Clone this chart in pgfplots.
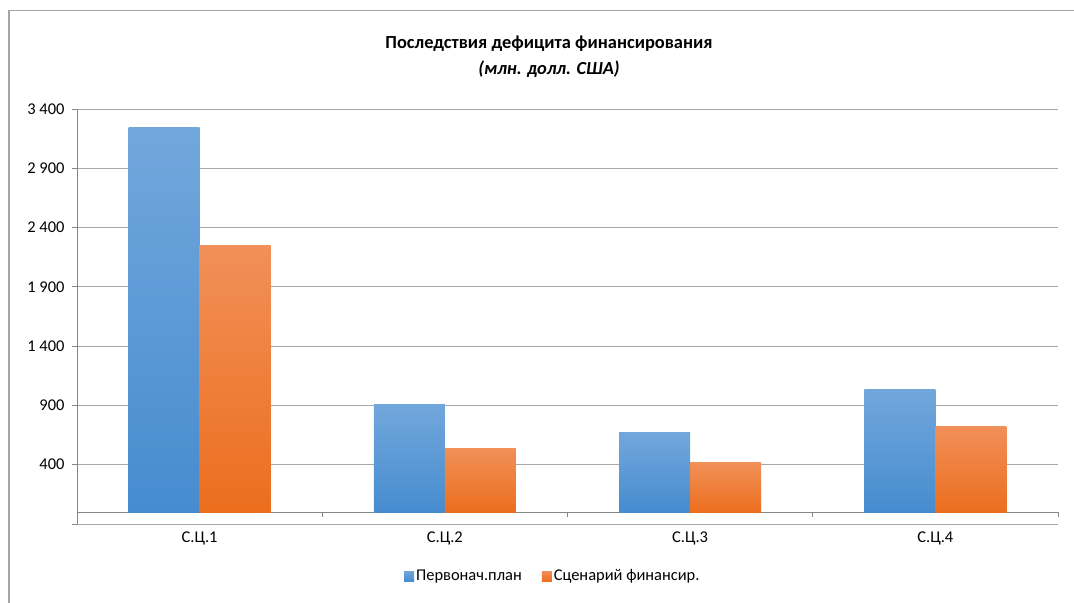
\documentclass[border=0pt]{standalone}
\usepackage{pgfplots}
\pgfplotsset{compat=1.18}
\usepackage{fontspec}
\setmainfont{Carlito}
\definecolor{blueTop}{RGB}{114,167,220}
\definecolor{blueBot}{RGB}{70,140,207}
\definecolor{orTop}{RGB}{241,144,88}
\definecolor{orBot}{RGB}{236,110,30}
\definecolor{blueLeg}{RGB}{91,155,213}
\definecolor{orLeg}{RGB}{237,125,49}
\definecolor{gridgray}{RGB}{168,168,168}
\definecolor{axgray}{RGB}{134,134,134}
\definecolor{framegray}{RGB}{165,165,165}
\begin{document}
\begin{tikzpicture}
\useasboundingbox (0,0) rectangle (1074bp,603bp);
\draw[framegray, line width=1.2bp] (9bp,0) -- (9bp,592.5bp) -- (1074bp,592.5bp);
\node[font=\fontsize{18.5}{20}\selectfont\bfseries] at (549bp,559bp) {Последствия дефицита финансирования};
\node[font=\fontsize{18.5}{20}\selectfont\bfseries\itshape] at (549bp,534bp) {(млн. долл. США)};
\begin{axis}[
  scale only axis,
  width=981bp, height=415bp,
  at={(77bp,79bp)}, anchor=south west,
  xmin=-0.5, xmax=3.5,
  ymin=-100, ymax=3400,
  axis y line*=left,
  axis x line*=middle,
  axis line style={axgray, line width=0.9bp},
  ytick={-100,400,900,1400,1900,2400,2900,3400},
  yticklabels={{},400,900,{1 400},{1 900},{2 400},{2 900},{3 400}},
  ymajorgrids,
  major grid style={gridgray, line width=0.9bp},
  tick align=outside,
  major tick length=5bp,
  tick style={axgray, line width=0.9bp},
  xtick={-0.5,0.5,1.5,2.5,3.5},
  xticklabels={},
  extra x ticks={0,1,2,3},
  extra x tick labels={С.Ц.1,С.Ц.2,С.Ц.3,С.Ц.4},
  extra x tick style={major tick length=0pt, tick label style={yshift=-16bp}},
  tick label style={font=\fontsize{16.5}{18}\selectfont},
  yticklabel style={xshift=-4bp},
  ybar, bar width=71bp,
  legend style={at={(0.485,-0.1253)}, anchor=center, draw=none, fill=none,
    legend columns=2, font=\fontsize{16.5}{18}\selectfont,
    /tikz/every even column/.append style={column sep=18bp}},
  legend image code/.code={\fill[#1] (0bp,-5bp) rectangle (10bp,5bp);},
]
\addplot[draw=none, top color=blueTop, bottom color=blueBot, bar shift=-35.5bp, legend image code/.code={\fill[blueLeg] (0bp,-5bp) rectangle (10bp,5bp);}] coordinates {(0,3248)};
\addlegendentry{Первонач.план}
\addplot[draw=none, top color=orTop, bottom color=orBot, bar shift=35.5bp, legend image code/.code={\fill[orLeg] (0bp,-5bp) rectangle (10bp,5bp);}] coordinates {(0,2252)};
\addlegendentry{Сценарий финансир.}
\addplot[forget plot, draw=none, top color=blueTop, bottom color=blueBot, bar shift=-35.5bp] coordinates {(1,909)};
\addplot[forget plot, draw=none, top color=orTop, bottom color=orBot, bar shift=35.5bp] coordinates {(1,538)};
\addplot[forget plot, draw=none, top color=blueTop, bottom color=blueBot, bar shift=-35.5bp] coordinates {(2,673)};
\addplot[forget plot, draw=none, top color=orTop, bottom color=orBot, bar shift=35.5bp] coordinates {(2,420)};
\addplot[forget plot, draw=none, top color=blueTop, bottom color=blueBot, bar shift=-35.5bp] coordinates {(3,1036)};
\addplot[forget plot, draw=none, top color=orTop, bottom color=orBot, bar shift=35.5bp] coordinates {(3,724)};
\end{axis}
\end{tikzpicture}
\end{document}
